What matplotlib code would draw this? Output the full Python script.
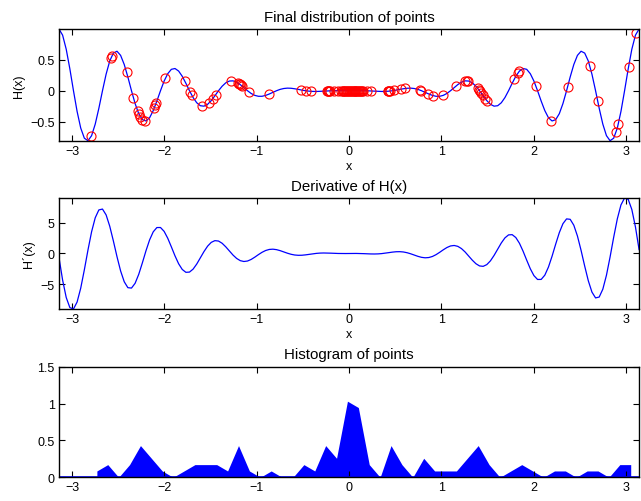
import numpy as np
import matplotlib
matplotlib.use("Agg")
import matplotlib.pyplot as plt

plt.rcParams['font.family'] = ['Liberation Sans', 'DejaVu Sans']
plt.rcParams['font.size'] = 9

# H(x) and its derivative sampled on 161 points from -pi to pi
x_grid = np.linspace(-np.pi, np.pi, 161)

h_vals = [1.000, 0.901, 0.672, 0.355, 0.000, -0.336, -0.605, -0.769,
          -0.810, -0.728, -0.541, -0.285, 0.000, 0.268, 0.481, 0.610,
          0.640, 0.573, 0.425, 0.223, 0.000, -0.208, -0.372, -0.469,
          -0.490, -0.437, -0.322, -0.168, 0.000, 0.156, 0.276, 0.347,
          0.360, 0.319, 0.234, 0.121, 0.000, -0.111, -0.195, -0.243,
          -0.250, -0.220, -0.160, -0.082, 0.000, 0.073, 0.128, 0.157,
          0.160, 0.139, 0.099, 0.050, 0.000, -0.044, -0.075, -0.090,
          -0.090, -0.076, -0.053, -0.026, 0.000, 0.022, 0.036, 0.042,
          0.040, 0.032, 0.022, 0.010, 0.000, -0.007, -0.011, -0.012,
          -0.010, -0.007, -0.004, -0.001, 0.000, 0.001, 0.000, 0.000,
          0.000,
          0.000, 0.000, 0.001, 0.000, -0.001, -0.004, -0.007,
          -0.010, -0.012, -0.011, -0.007, 0.000, 0.010, 0.022, 0.032,
          0.040, 0.042, 0.036, 0.022, 0.000, -0.026, -0.053, -0.076,
          -0.090, -0.090, -0.075, -0.044, 0.000, 0.050, 0.099, 0.139,
          0.160, 0.157, 0.128, 0.073, 0.000, -0.082, -0.160, -0.220,
          -0.250, -0.243, -0.195, -0.111, 0.000, 0.121, 0.234, 0.319,
          0.360, 0.347, 0.276, 0.156, 0.000, -0.168, -0.322, -0.437,
          -0.490, -0.469, -0.372, -0.208, 0.000, 0.223, 0.425, 0.573,
          0.640, 0.610, 0.481, 0.268, 0.000, -0.285, -0.541, -0.728,
          -0.810, -0.769, -0.605, -0.336, 0.000, 0.355, 0.672, 0.901,
          1.000]

dh_vals = [-0.637, -4.316, -7.160, -8.795, -9.025, -7.893, -5.633, -2.652,
           0.573, 3.539, 5.807, 7.084, 7.225, 6.277, 4.441, 2.050,
           -0.509, -2.838, -4.595, -5.558, -5.625, -4.846, -3.390, -1.525,
           0.446, 2.215, 3.525, 4.217, 4.225, 3.600, 2.480, 1.077,
           -0.382, -1.668, -2.596, -3.061, -3.025, -2.538, -1.712, -0.705,
           0.318, 1.197, 1.809, 2.089, 2.025, 1.662, 1.086, 0.409,
           -0.255, -0.803, -1.163, -1.303, -1.225, -0.970, -0.601, -0.190,
           0.191, 0.486, 0.658, 0.701, 0.625, 0.463, 0.257, 0.048,
           -0.127, -0.245, -0.295, -0.284, -0.225, -0.141, -0.054, 0.018,
           0.064, 0.081, 0.074, 0.051, 0.025, 0.004, -0.007, -0.007,
           0.000,
           0.007, 0.007, -0.004, -0.025, -0.051, -0.074, -0.081,
           -0.064, -0.018, 0.054, 0.141, 0.225, 0.284, 0.295, 0.245,
           0.127, -0.048, -0.257, -0.463, -0.625, -0.701, -0.658, -0.486,
           -0.191, 0.190, 0.601, 0.970, 1.225, 1.303, 1.163, 0.803,
           0.255, -0.409, -1.086, -1.662, -2.025, -2.089, -1.809, -1.197,
           -0.318, 0.705, 1.712, 2.538, 3.025, 3.061, 2.596, 1.668,
           0.382, -1.077, -2.480, -3.600, -4.225, -4.217, -3.525, -2.215,
           -0.446, 1.525, 3.390, 4.846, 5.625, 5.558, 4.595, 2.838,
           0.509, -2.050, -4.441, -6.277, -7.225, -7.084, -5.807, -3.539,
           -0.573, 2.652, 5.633, 7.893, 9.025, 8.795, 7.160, 4.316,
           0.637]

# final positions of the 100 points and their H values
pts_x = [-2.79, -2.58, -2.57, -2.41, -2.335, -2.29, -2.277, -2.262, -2.24, -2.21,
         -2.107, -2.097, -2.087, -1.99, -1.78, -1.72, -1.705, -1.595, -1.52, -1.475,
         -1.446, -1.277, -1.205, -1.19, -1.18, -1.168, -1.157, -1.086, -0.862, -0.519,
         -0.465, -0.407, -0.24, -0.232, -0.224, -0.215, -0.205, -0.16, -0.12, -0.09,
         -0.07, -0.06, -0.05, -0.04, -0.03, -0.02, -0.01, 0.0, 0.01, 0.02,
         0.03, 0.038, 0.05, 0.06, 0.07, 0.08, 0.09, 0.10, 0.11, 0.12,
         0.13, 0.14, 0.15, 0.2, 0.24, 0.419, 0.425, 0.437, 0.445, 0.491,
         0.564, 0.611, 0.773, 0.783, 0.852, 0.906, 1.022, 1.159, 1.26, 1.275,
         1.29, 1.393, 1.405, 1.418, 1.43, 1.448, 1.477, 1.495, 1.79, 1.83,
         1.845, 2.025, 2.19, 2.368, 2.61, 2.693, 2.892, 2.917, 3.028, 3.11]

pts_y = [-0.733, 0.530, 0.565, 0.302, -0.116, -0.327, -0.371, -0.420, -0.467, -0.492,
         -0.272, -0.233, -0.191, 0.200, 0.160, -0.024, -0.067, -0.250, -0.205, -0.127,
         -0.067, 0.162, 0.128, 0.113, 0.102, 0.087, 0.074, -0.016, -0.052, 0.013,
         -0.001, -0.010, -0.004, -0.004, -0.003, -0.003, -0.002, 0.000, 0.001, 0.000,
         0.0, 0.0, 0.0, 0.0, 0.0, 0.0, 0.0, 0.0, 0.0, 0.0,
         0.0, 0.0, 0.0, 0.0, 0.0, 0.0, 0.0, 0.0, 0.0, 0.0,
         0.0, 0.0, 0.0, -0.002, -0.004, -0.009, -0.008, -0.006, -0.005, 0.005,
         0.026, 0.037, 0.007, 0.001, -0.045, -0.078, -0.074, 0.076, 0.161, 0.162,
         0.159, 0.040, 0.017, -0.009, -0.034, -0.072, -0.131, -0.165, 0.189, 0.289,
         0.318, 0.071, -0.484, 0.067, 0.393, -0.165, -0.676, -0.540, 0.392, 0.931]

n_bins = 50
xticks = [-3, -2, -1, 0, 1, 2, 3]
xtick_labels = ['\u22123', '\u22122', '\u22121', '0', '1', '2', '3']


def style(ax):
    ax.set_xlim(-np.pi, np.pi)
    ax.set_xticks(xticks)
    ax.set_xticklabels(xtick_labels)
    ax.tick_params(direction='in', top=True, right=True, length=4,
                   width=0.8, pad=3)
    for s in ax.spines.values():
        s.set_linewidth(1.0)


fig = plt.figure(figsize=(6.41, 5.02), dpi=100)
left, width = 0.092, 0.905

ax1 = fig.add_axes([left, 0.7177, width, 0.2225])
ax1.plot(x_grid, h_vals, color='b', lw=0.9)
ax1.plot(pts_x, pts_y, 'o', mfc='none', mec='r', ms=6.5, mew=0.8)
ax1.set_ylim(min(h_vals), max(h_vals))
ax1.set_yticks([-0.5, 0, 0.5])
ax1.set_yticklabels(['\u22120.5', '0', '0.5'])
style(ax1)
ax1.set_title('Final distribution of points', pad=6)
ax1.set_xlabel('x', labelpad=2)
ax1.set_ylabel('H(x)')

ax2 = fig.add_axes([left, 0.3825, width, 0.2211])
ax2.plot(x_grid, dh_vals, color='b', lw=0.9)
ax2.set_ylim(min(dh_vals), max(dh_vals))
ax2.set_yticks([-5, 0, 5])
ax2.set_yticklabels(['\u22125', '0', '5'])
style(ax2)
ax2.set_title('Derivative of H(x)', pad=6)
ax2.set_xlabel('x', labelpad=2)
ax2.set_ylabel('H\u00b4(x)')

# histogram of the points, normalised to unit area
counts, edges = np.histogram(pts_x, bins=n_bins)
centers = (edges[:-1] + edges[1:]) / 2
density = counts / np.trapezoid(counts, centers)

ax3 = fig.add_axes([left, 0.0472, width, 0.2203])
ax3.fill_between(centers, density, 0, color='b', lw=0)
ax3.axhline(0, color='b', lw=1.2)
ax3.set_ylim(0, 1.5)
ax3.set_yticks([0, 0.5, 1, 1.5])
ax3.set_yticklabels(['0', '0.5', '1', '1.5'])
style(ax3)
ax3.set_title('Histogram of points', pad=6)

fig.savefig('out.png', dpi=100)
